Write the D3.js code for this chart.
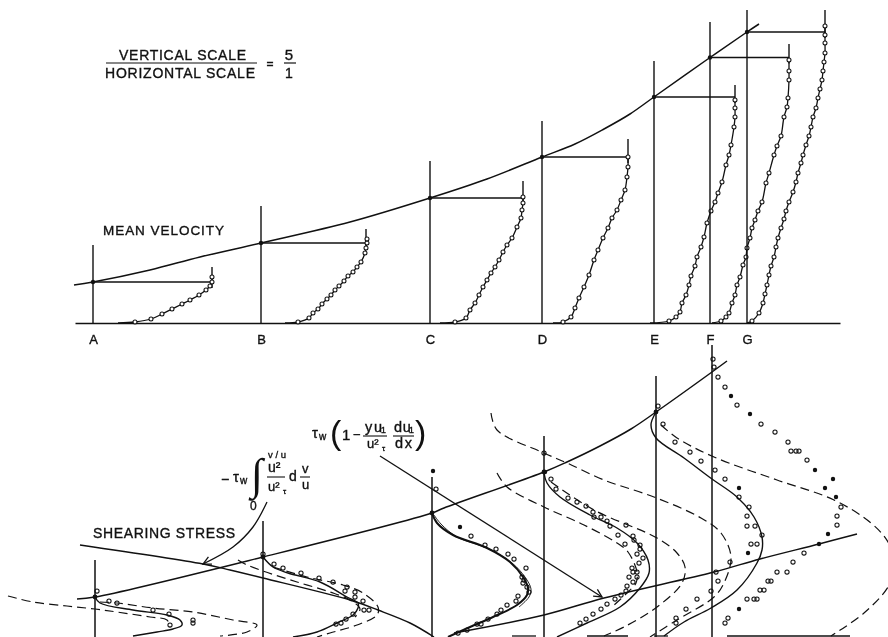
<!DOCTYPE html>
<html><head><meta charset="utf-8">
<script src="https://cdn.jsdelivr.net/npm/d3@7/dist/d3.min.js"></script>
<style>
html,body{margin:0;padding:0;background:#fff}
svg{display:block;filter:blur(0.35px)}
text{font-family:"Liberation Sans",Arial,sans-serif;fill:#111;stroke:#111;stroke-width:0.35;font-weight:400}
</style></head><body>
<script>
// All values: x = distance along the plate, h = height above the wall of each panel.
const stationLabels = ["A","B","C","D","E","F","G"];
const stationX = [93,261,430,542,654,710,747];
const stationTopH = [78,117,162,202,262,301,313];
const stationEdgeH = [41,80,125,166,226,265.5,291];
const profileEndX = [212,366,523,628,735,789,825];
const profileStubH = [56,94,142,184,238,279,313];
const edgeCurve = [[74,38],[93,41],[150,53],[200,66],[261,80],[350,101],[430,125],[487,144],[542,166],[575,179],[604,194],[630,209],[654,226],[710,265.5],[747,291],[759,299]];

const velA = [[135,1],[151,4],[162,9],[172,14],[182,19],[190,23],[199,28],[206,33],[210,37],[212,41],[212,46]];
const velB = [[298,1],[309,5],[313,10],[318,14],[322,19],[327,24],[331,28],[335,33],[339,37],[344,42],[348,47],[353,51],[357,56],[361,61],[365,70],[366,75],[367,80],[367,84]];
const velC = [[455,1],[466,5],[470,13],[475,20],[479,28],[483,36],[487,43],[491,50],[495,56],[499,63],[503,71],[507,78],[512,85],[517,96],[521,105],[522,113],[523,120],[523,126]];
const velD = [[563,1],[571,6],[575,15],[579,25],[584,36],[589,48],[594,63],[598,73],[603,85],[608,95],[612,105],[617,113],[621,123],[625,133],[627,146],[628,156],[628,166]];
const velE = [[669,2],[676,6],[680,11],[682,20],[686,28],[689,38],[691,47],[695,57],[697,66],[701,76],[704,86],[707,100],[711,112],[715,121],[718,130],[722,141],[726,158],[729,168],[731,178],[734,196],[735,206],[735,215],[735,223]];
const velF = [[721,2],[726,6],[729,10],[732,20],[735,28],[737,38],[740,46],[743,58],[746,66],[747,75],[750,85],[752,95],[755,103],[758,112],[762,121],[766,140],[769,150],[774,168],[777,177],[781,187],[784,206],[787,216],[788,225],[789,243],[789,252],[789,263]];
const velG = [[752,2],[759,10],[763,20],[765,29],[767,38],[769,48],[771,57],[774,66],[776,76],[778,85],[781,95],[784,104],[786,112],[789,121],[793,131],[796,141],[798,150],[801,160],[803,168],[806,178],[809,187],[811,196],[813,206],[816,215],[818,225],[820,234],[822,243],[823,252],[824,261],[825,270],[825,280],[825,288],[825,297]];
const velProfiles = [velA,velB,velC,velD,velE,velF,velG];
const velStartX = [118,285,440,553,650,712,747];

// Lower panel
const shearX = [95,263,432,544,656,712];
const shearTopH = [77,116,160,201,261,292];
const wallStressUp = [[77,38],[95,40],[263,80],[432,124],[444,129],[544,165],[567,175],[600,191],[631,208],[656,225],[712,265],[727,276]];
const shearLineDown = [[80,92],[203,73],[230,67],[263,59],[350,37],[378,27],[410,14],[434,0]];
const shearLineUp = [[454,4],[544,22],[604,39],[714,65],[760,78],[819,93],[857,103]];
const arrowIntegral = [[267,135],[253,110],[233,90],[203,73]];
const arrowMomentum = [[380,181],[602,40]];
const wallBits = [[[512,1],[536,1]],[[587,1],[628,1]],[[654,1],[668,1]],[[727,1],[850,1]]];

const solidA = [[95,40],[100,34],[133,27],[167,22],[180,17],[182,12],[173,8],[157,5],[133,1]];
const solidB = [[263,80],[273,70],[288,64],[320,55],[347,40],[358,34],[358,29],[353,22],[337,14],[317,5],[293,0]];
const solidC = [[432,124],[437,114],[453,102],[487,89],[510,75],[523,60],[528,49],[527,42],[517,32],[493,20],[470,10],[448,0]];
const solidCThin = [[434,122],[441,113],[457,100],[489,88],[512,74],[525,60],[531,48],[529,40],[519,30]];
const solidD = [[544,164],[547,154],[560,140],[590,122],[617,109],[637,94],[648,77],[649,64],[640,49],[620,30],[587,14],[557,0]];
const solidE = [[656,225],[651,212],[656,199],[684,179],[712,158],[737,140],[754,120],[762,100],[762,87],[757,74],[737,47],[711,29],[684,15],[664,1]];
const solidCurves = [solidA,solidB,solidC,solidD,solidE];

const dashInnerA = [[8,41],[33,35],[67,31],[95,28],[117,25],[150,20],[167,17],[170,10]];
const dashOuterA = [[100,35],[117,34],[153,29],[193,25],[233,17],[257,12],[247,5],[220,1]];
const dashInnerB = [[238,77],[245,73],[263,66],[297,55],[330,45],[350,37],[360,28],[355,20]];
const dashOuterB = [[273,70],[307,60],[343,52],[363,44],[378,30],[377,22],[357,12],[330,4],[317,0]];
const dashInnerD = [[497,164],[507,150],[544,130],[584,112],[617,94],[628,85],[637,65],[636,54],[628,45],[612,30]];
const dashOuterD = [[551,155],[594,127],[657,99],[677,84],[685,70],[682,54],[657,30],[624,10],[604,1]];
const dashInnerE = [[491,224],[497,207],[544,184],[567,174],[604,157],[654,140],[701,119],[721,104],[731,80],[724,54],[714,40],[677,17],[650,0]];
const dashOuterE = [[661,212],[677,199],[714,180],[777,157],[834,137],[871,114],[888,95],[896,72],[888,50],[864,24],[831,1]];
const dashedCurves = [dashInnerA,dashOuterA,dashInnerB,dashOuterB,dashInnerD,dashOuterD,dashInnerE,dashOuterE];

const openPoints = [
 [97,46],[109,36],[117,34],[153,27],[169,23],[193,17],[193,14],[170,12],
 [263,83],[274,73],[283,69],[301,64],[319,59],[333,55],[347,50],[345,46],[355,45],[355,40],[363,36],[364,27],[369,27],[353,23],[346,18],[341,14],[336,13],
 [436,148],[471,101],[485,92],[496,88],[508,83],[514,78],[526,69],[522,60],[524,57],[523,54],[527,50],[529,45],[518,41],[516,36],[507,32],[501,27],[497,23],[488,18],[481,13],[477,13],[467,7],[458,4],
 [544,184],[551,158],[556,148],[568,139],[577,135],[586,131],[593,125],[594,120],[601,120],[607,116],[610,111],[626,112],[618,102],[633,101],[634,97],[640,92],[625,93],[640,88],[637,83],[643,79],[639,74],[632,69],[633,65],[637,65],[629,60],[637,60],[633,55],[627,51],[626,46],[621,42],[615,38],[607,33],[601,28],[593,23],[586,18],[580,14],
 [658,231],[663,213],[675,195],[690,185],[701,176],[715,167],[725,158],[739,140],[749,130],[747,121],[747,111],[755,111],[762,102],[751,93],[757,93],[730,75],[716,65],[718,56],[711,46],[697,38],[686,28],[676,19],[676,14],
 [713,278],[714,270],[718,260],[725,250],[737,232],[761,213],[775,205],[788,195],[791,186],[796,186],[799,186],[807,177],[841,130],[837,121],[837,112],[804,84],[793,75],[777,65],[787,65],[768,56],[771,56],[760,47],[764,47],[747,38],[754,38],[757,38],[728,19],[725,14]
];
const filledPoints = [[433,166],[460,110],[545,165],[731,241],[750,223],[739,149],[748,84],[815,167],[833,158],[825,149],[836,140],[828,103],[819,93],[739,28]];

const W = 888, H = 637;
const x = d3.scaleLinear().domain([0,888]).range([0,W]);
const yU = d3.scaleLinear().domain([0,323]).range([323,0]);
const yL = d3.scaleLinear().domain([0,637]).range([H,0]);
const ink = "#111";

const svg = d3.select("body").append("svg").attr("width",W).attr("height",H).attr("viewBox",`0 0 ${W} ${H}`);
svg.append("rect").attr("width",W).attr("height",H).attr("fill","#fff");
svg.append("defs").append("marker").attr("id","barb").attr("viewBox","-9 -5 10 10")
  .attr("refX",0).attr("refY",0).attr("markerWidth",10).attr("markerHeight",10)
  .attr("markerUnits","userSpaceOnUse").attr("orient","auto")
  .append("path").attr("d","M-8,-4 L0,0 L-8,4").attr("fill","none").attr("stroke",ink).attr("stroke-width",1.3);

const lineU = c => d3.line().x(d=>x(d[0])).y(d=>yU(d[1])).curve(c);
const lineL = c => d3.line().x(d=>x(d[0])).y(d=>yL(d[1])).curve(c);
const smooth = d3.curveCatmullRom.alpha(0.5);
const path = (g,d,w,dash) => g.append("path").attr("d",d).attr("fill","none").attr("stroke",ink)
   .attr("stroke-width",w).attr("stroke-dasharray",dash||null);

// ---------- upper panel ----------
const up = svg.append("g");
const wallScale = x.copy().domain([75,840]).range([x(75),x(840)]);
const axis = d3.axisBottom(wallScale).tickValues(stationX).tickSize(0).tickPadding(12)
   .tickFormat((d,i)=>stationLabels[i]);
const ax = up.append("g").attr("transform",`translate(0,${yU(0)})`).call(axis);
ax.select(".domain").attr("stroke",ink).attr("stroke-width",1.6);
ax.selectAll("text").attr("font-size",13).attr("fill",ink).attr("font-family","Liberation Sans");

stationX.forEach((sx,i)=>{
  path(up,lineU(d3.curveLinear)([[sx,0],[sx,stationTopH[i]]]),1.4);
  path(up,lineU(d3.curveLinear)([[sx,stationEdgeH[i]],[profileEndX[i],stationEdgeH[i]]]),1.4);
  path(up,lineU(d3.curveLinear)([[profileEndX[i],stationEdgeH[i]-6],[profileEndX[i],profileStubH[i]]]),1.4);
  path(up,lineU(smooth)([[velStartX[i],0],...velProfiles[i]]),1.3);
  up.selectAll(null).data(velProfiles[i]).join("circle")
    .attr("cx",d=>x(d[0])).attr("cy",d=>yU(d[1])).attr("r",2)
    .attr("fill","#fff").attr("stroke",ink).attr("stroke-width",1.05);
  up.append("circle").attr("cx",x(sx)).attr("cy",yU(stationEdgeH[i])).attr("r",2.2).attr("fill",ink);
});
path(up,lineU(smooth)(edgeCurve),1.5);

// ---------- lower panel ----------
const low = svg.append("g");
shearX.forEach((sx,i)=>path(low,lineL(d3.curveLinear)([[sx,-2],[sx,shearTopH[i]]]),1.5));
wallBits.forEach(b=>path(low,lineL(d3.curveLinear)(b),1.3));
path(low,lineL(smooth)(wallStressUp),1.5);
path(low,lineL(smooth)(shearLineDown),1.4);
path(low,lineL(smooth)(shearLineUp),1.5);
path(low,lineL(smooth)(arrowIntegral),1.3).attr("marker-end","url(#barb)");
path(low,lineL(d3.curveLinear)(arrowMomentum),1.3).attr("marker-end","url(#barb)");
solidCurves.forEach((c,i)=>path(low,lineL(smooth)(c),i===2?2:1.4));
path(low,lineL(smooth)(solidCThin),0.9);
dashedCurves.forEach(c=>path(low,lineL(smooth)(c),1.2,"9 5"));
low.selectAll(null).data(openPoints).join("circle")
   .attr("cx",d=>x(d[0])).attr("cy",d=>yL(d[1])).attr("r",2.1)
   .attr("fill","none").attr("stroke",ink).attr("stroke-width",1.05);
low.selectAll(null).data(filledPoints).join("circle")
   .attr("cx",d=>x(d[0])).attr("cy",d=>yL(d[1])).attr("r",2.2).attr("fill",ink);
shearX.slice(0,5).forEach((sx,i)=>{
  const e=[40,80,124,165,225][i];
  low.append("circle").attr("cx",x(sx)).attr("cy",yL(e)).attr("r",2.4).attr("fill",ink);
});

// ---------- lettering ----------
const t = (str,px,py,size,opts={})=>{
  const n=svg.append("text").attr("x",px).attr("y",py).attr("font-size",size).text(str);
  if(opts.len) n.attr("textLength",opts.len).attr("lengthAdjust","spacing");
  if(opts.anchor) n.attr("text-anchor",opts.anchor);
  return n;
};
const rule=(x1,x2,y,w=1.2)=>svg.append("line").attr("x1",x1).attr("x2",x2).attr("y1",y).attr("y2",y).attr("stroke",ink).attr("stroke-width",w);

t("VERTICAL  SCALE",119,60,14,{len:127});
rule(106,257,63,1.1);
t("HORIZONTAL  SCALE",105,78,14,{len:150});
t("=",270,68,12,{anchor:"middle"});
t("5",289,60,15,{anchor:"middle"});
rule(284,296,63,1.2);
t("1",289,78,14,{anchor:"middle"});
t("MEAN  VELOCITY",103,235,13.5,{len:121});
t("SHEARING  STRESS",93,538,14,{len:142});

// tau (1 - ...)
t("τ",312,438,15);
t("w",319,440,10);
t("(",330,444,34).style("stroke-width",0);
t("1",342,440,15);
t("−",353,439,13);
t("y u₁",365,432,14.5,{len:21});
rule(363,387,436,1.1);
t("u²",367,448,13);
t("τ",382,451,8);
t("d u₁",394,432,14.5,{len:20});
rule(393,414,436,1.1);
t("d x",395,448,14.5,{len:17});
t(")",415,444,34).style("stroke-width",0);

// - tau integral
t("−",221,484,14);
t("τ",233,482,15);
t("w",240,484,10);
t("∫",251,489,44).style("font-family","Liberation Serif").style("stroke-width",0);
t("v / u",268,458,9.5);
t("0",250,510,12);
t("u²",268,472,14);
rule(267,285,477,1.1);
t("u²",268,491,13);
t("τ",283,494,8);
t("d",289,481,14);
t("v",302,473,13);
rule(300,310,477,1.1);
t("u",302,489,13);
</script>
</body></html>
